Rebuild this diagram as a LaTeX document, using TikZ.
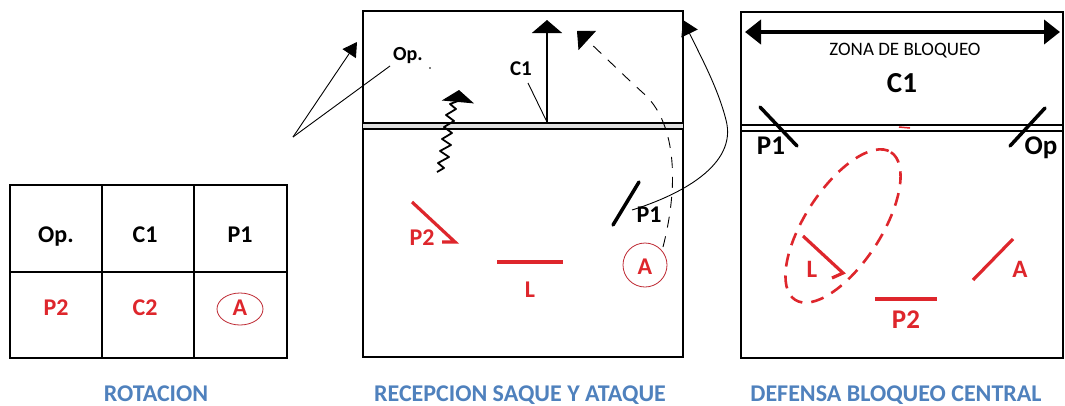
\documentclass[tikz,border=0pt]{standalone}
\usepackage{fontspec}
\setmainfont{Carlito}
\usetikzlibrary{arrows.meta}
\definecolor{myred}{RGB}{222,38,44}
\definecolor{darkred}{RGB}{190,40,50}
\definecolor{capblue}{RGB}{79,129,189}
\tikzset{
  frame/.style={line width=2.6pt},
  netline/.style={line width=1.2pt},
  player/.style={line width=3.5pt, line cap=round},
  redplayer/.style={myred, line width=3.2pt},
  lbl/.style={inner sep=0pt, anchor=base, font=\bfseries\fontsize{#1}{#1}\selectfont},
  redlbl/.style={lbl=#1, text=myred},
  caption/.style={inner sep=0pt, anchor=base, text=capblue, font=\bfseries\fontsize{24}{26}\selectfont},
  thin/.style={line width=0.9pt},
}
\begin{document}
\begin{tikzpicture}[x=1pt,y=-1pt]
\useasboundingbox (0,0) rectangle (1065,405);
\fill[white] (0,0) rectangle (1065,405);

% ---------- table (ROTACION) ----------
\draw[frame] (10,185) rectangle (287,358);
\draw[frame] (102,185) -- (102,358);
\draw[frame] (194,185) -- (194,358);
\draw[frame] (10,272) -- (287,272);
\node[lbl=24] (tOp) at (56,242) {Op.};
\node[lbl=24] (tC1) at (145,242) {C1};
\node[lbl=24] (tP1) at (240,242) {P1};
\node[redlbl=24] (tP2) at (56,315) {P2};
\node[redlbl=24] (tC2) at (145,315) {C2};
\node[redlbl=24] (tA) at (240,315) {A};
\draw[darkred, line width=0.8pt] (240,309) ellipse [x radius=23, y radius=16];

% ---------- middle court ----------
\draw[frame] (363,11) rectangle (683,357);
\coordinate (mnL1) at (363,123); \coordinate (mnR1) at (683,123);
\coordinate (mnL2) at (363,129); \coordinate (mnR2) at (683,129);
\fill[black!12] (363,123) rectangle (683,129);
\draw[netline] (mnL1) -- (mnR1);
\draw[netline] (mnL2) -- (mnR2);

% Op. label and its arrows
\node[lbl=20] (mOp) at (408,60) {Op.};
\fill (430,68) circle (0.9);
\coordinate (mOrigin) at (293,137);
\coordinate (mOpEnd) at (390,66);
\coordinate (mOpTip) at (357,42);
\draw[thin] (mOrigin) -- (mOpEnd);
\draw[thin, -{Triangle[width=16pt,length=14pt]}] (mOrigin) -- (mOpTip);

% C1 arrow
\coordinate (mC1base) at (547,122);
\coordinate (mC1tip) at (547,20);
\draw[line width=1.5pt, -{Triangle[width=30pt,length=13pt]}] (mC1base) -- (mC1tip);
\node[lbl=21] (mC1) at (521,75) {C1};
\coordinate (mC1lead) at (528,83);
\draw[thin] (mC1lead) -- (mC1base);

% wavy arrow
\coordinate (mWstart) at (437,172);
\coordinate (mWtip) at (459,90);
\draw[line width=1.8pt, line join=round, -{Triangle[width=32pt,length=12pt]}]
  (mWstart) -- (444,168) -- (438,163) -- (449,157) -- (440,151) -- (451,145) -- (442,139)
  -- (452,133) -- (444,127) -- (454,121) -- (446,115) -- (456,109) -- (450,104) -- (458,101) -- (mWtip);

% players
\coordinate (mP1a) at (613,225); \coordinate (mP1b) at (639,182);
\draw[player] (mP1a) -- (mP1b);
\node[lbl=24] (mP1) at (649,222) {P1};

\coordinate (mP2a) at (412,202); \coordinate (mP2b) at (455,242); \coordinate (mP2c) at (442,242);
\draw[redplayer] (mP2a) -- (mP2b) -- (mP2c);
\node[redlbl=24] (mP2) at (422,245) {P2};

\coordinate (mLa) at (497,262); \coordinate (mLb) at (563,262);
\draw[redplayer] (mLa) -- (mLb);
\node[redlbl=24] (mL) at (530,297) {L};

\node[darkred, draw, circle, line width=0.8pt, minimum size=44pt, inner sep=0pt] (mAc) at (645,265) {};
\node[redlbl=24] (mA) at (645,274) {A};

% dashed route from A
\coordinate (mDstart) at (663,247);
\coordinate (mDtip) at (577,31);
\draw[thin, dash pattern=on 11pt off 9pt, -{Triangle[width=26pt,length=14pt]}]
  (mDstart) .. controls (680,180) and (675,120) .. (642,92)
  .. controls (620,72) and (600,52) .. (mDtip);

% solid route from P1
\coordinate (mSstart) at (632,210);
\coordinate (mStip) at (683,20);
\draw[thin, -{Triangle[width=18pt,length=15pt]}]
  (mSstart) .. controls (680,195) and (738,165) .. (726,120)
  .. controls (718,88) and (700,55) .. (mStip);

% ---------- right court ----------
\draw[frame] (741,12) rectangle (1063,358);
\coordinate (rnL1) at (741,125); \coordinate (rnR1) at (1063,125);
\coordinate (rnL2) at (741,131); \coordinate (rnR2) at (1063,131);
\draw[netline] (rnL1) -- (rnR1);
\draw[netline] (rnL2) -- (rnR2);
\draw[myred, line width=1.5pt] (899,127) -- (910,128);

\coordinate (rZl) at (745,32); \coordinate (rZr) at (1060,32);
\draw[line width=4pt, {Triangle[width=24pt,length=16pt]}-{Triangle[width=24pt,length=16pt]}] (rZl) -- (rZr);
\node[inner sep=0pt, anchor=base, font=\fontsize{19}{20}\selectfont] (rZona) at (905,55) {ZONA DE BLOQUEO};
\node[lbl=29] (rC1) at (902,92) {C1};

\coordinate (rP1a) at (760,107); \coordinate (rP1b) at (797,146);
\draw[player] (rP1a) -- (rP1b);
\node[lbl=27] (rP1) at (771,154) {P1};

\coordinate (rOpa) at (1010,146); \coordinate (rOpb) at (1045,108);
\draw[player] (rOpa) -- (rOpb);
\node[lbl=27] (rOp) at (1041,154) {Op};

\draw[myred, line width=2.6pt, dash pattern=on 13pt off 9pt] (843,226) ellipse [x radius=88, y radius=38, rotate=57];

\coordinate (rLa) at (803,236); \coordinate (rLb) at (843,273); \coordinate (rLc) at (832,278);
\draw[redplayer] (rLa) -- (rLb) -- (rLc);
\node[redlbl=25] (rL) at (812,277) {L};

\coordinate (rAa) at (973,280); \coordinate (rAb) at (1013,239);
\draw[redplayer] (rAa) -- (rAb);
\node[redlbl=25] (rA) at (1020,277) {A};

\coordinate (rP2a) at (875,299); \coordinate (rP2b) at (937,299);
\draw[redplayer] (rP2a) -- (rP2b);
\node[redlbl=27] (rP2) at (906,328) {P2};

% ---------- captions ----------
\node[caption] (cap1) at (156,401) {ROTACION};
\node[caption] (cap2) at (520,401) {RECEPCION SAQUE Y ATAQUE};
\node[caption] (cap3) at (896,401) {DEFENSA BLOQUEO CENTRAL};
\end{tikzpicture}
\end{document}
